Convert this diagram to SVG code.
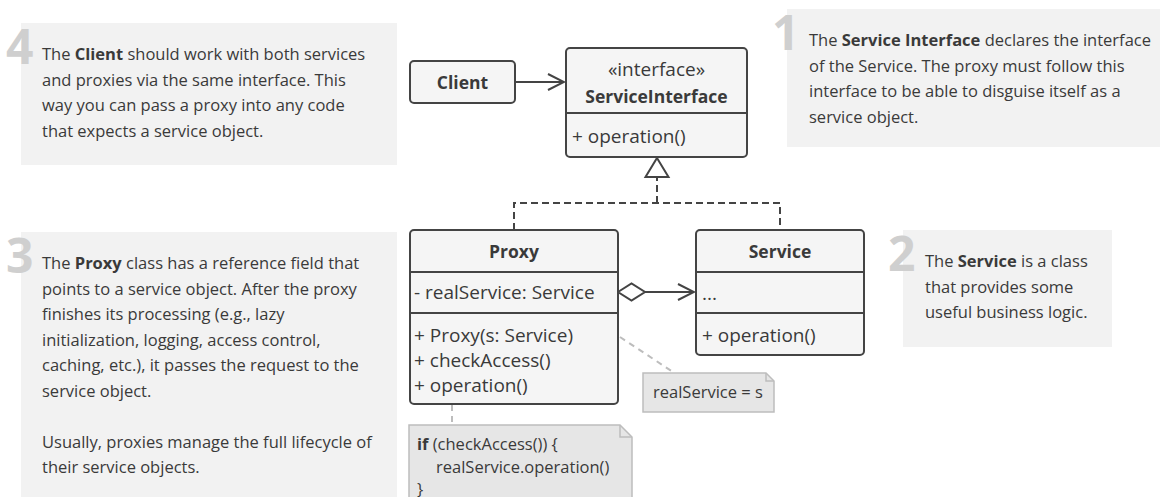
<svg xmlns="http://www.w3.org/2000/svg" width="1167" height="497" viewBox="0 0 1167 497">
  <style>
    .bg { fill: #f2f2f2; }
    .digit { font-family: "Open Sans", "Liberation Sans", sans-serif; font-weight: bold; font-size: 48px; fill: #cfcfcf; }
    .txt { font-family: "Open Sans", "Liberation Sans", sans-serif; font-size: 16.5px; fill: #3a3a3a; }
    .b { font-weight: bold; }
    .box { fill: #f5f5f5; stroke: #444; stroke-width: 2; }
    .sep { stroke: #444; stroke-width: 2; fill: none; }
    .cls { font-family: "Open Sans", "Liberation Sans", sans-serif; font-size: 19px; fill: #3a3a3a; }
    .title { font-weight: bold; text-anchor: middle; font-size: 17.5px; }
    .mid { text-anchor: middle; }
    .line { stroke: #444; stroke-width: 2; fill: none; }
    .dash { stroke: #444; stroke-width: 2; fill: none; stroke-dasharray: 7 4; }
    .ndash { stroke: #bdbdbd; stroke-width: 2; fill: none; stroke-dasharray: 6 5; }
    .note { fill: #e6e6e6; stroke: #bdbdbd; stroke-width: 1.5; }
    .ntxt { font-family: "Open Sans", "Liberation Sans", sans-serif; font-size: 16.5px; fill: #3a3a3a; }
  </style>
  <defs>
    <marker id="open" viewBox="0 0 20 20" refX="18" refY="10" markerWidth="20" markerHeight="20" markerUnits="userSpaceOnUse" orient="auto">
      <path d="M2,2 L18,10 L2,18" fill="none" stroke="#444" stroke-width="2"/>
    </marker>
  </defs>

  <!-- explanatory notes -->
  <g id="note-4">
    <rect class="bg" x="21" y="23" width="376" height="142"/>
    <text class="digit" x="6" y="64">4</text>
    <text class="txt" x="42" y="60">The <tspan class="b">Client</tspan> should work with both services</text>
    <text class="txt" x="42" y="85.5">and proxies via the same interface. This</text>
    <text class="txt" x="42" y="111">way you can pass a proxy into any code</text>
    <text class="txt" x="42" y="136.5">that expects a service object.</text>
  </g>

  <g id="note-1">
    <rect class="bg" x="787" y="9" width="373" height="138"/>
    <text class="digit" x="772" y="50">1</text>
    <text class="txt" x="809" y="46">The <tspan class="b">Service Interface</tspan> declares the interface</text>
    <text class="txt" x="809" y="71.5">of the Service. The proxy must follow this</text>
    <text class="txt" x="809" y="97">interface to be able to disguise itself as a</text>
    <text class="txt" x="809" y="122.5">service object.</text>
  </g>

  <g id="note-3">
    <rect class="bg" x="21" y="232" width="376" height="265"/>
    <text class="digit" x="6" y="273">3</text>
    <text class="txt" x="42" y="269">The <tspan class="b">Proxy</tspan> class has a reference field that</text>
    <text class="txt" x="42" y="294.5">points to a service object. After the proxy</text>
    <text class="txt" x="42" y="320">finishes its processing (e.g., lazy</text>
    <text class="txt" x="42" y="345.5">initialization, logging, access control,</text>
    <text class="txt" x="42" y="371">caching, etc.), it passes the request to the</text>
    <text class="txt" x="42" y="396.5">service object.</text>
    <text class="txt" x="42" y="447.5">Usually, proxies manage the full lifecycle of</text>
    <text class="txt" x="42" y="473">their service objects.</text>
  </g>

  <g id="note-2">
    <rect class="bg" x="903" y="230" width="209" height="117"/>
    <text class="digit" x="888" y="271">2</text>
    <text class="txt" x="925" y="267">The <tspan class="b">Service</tspan> is a class</text>
    <text class="txt" x="925" y="292.5">that provides some</text>
    <text class="txt" x="925" y="318">useful business logic.</text>
  </g>

  <!-- connectors -->
  <g id="connectors">
    <line class="line" x1="515" y1="82" x2="564" y2="82" marker-end="url(#open)"/>
    <path class="dash" d="M514,230 V203 H780 V230"/>
    <path class="dash" d="M657,203 V178"/>
    <path d="M657,158 L668.5,177 L645.5,177 Z" fill="#fff" stroke="#444" stroke-width="2"/>
    <path d="M618,292 L631.5,283.5 L645,292 L631.5,300.5 Z" fill="#fff" stroke="#444" stroke-width="2"/>
    <line class="line" x1="645" y1="292" x2="694" y2="292" marker-end="url(#open)"/>
    <line class="ndash" x1="620" y1="337" x2="673" y2="372"/>
    <line class="ndash" x1="452" y1="405" x2="452" y2="425"/>
  </g>

  <!-- classes -->
  <g id="client">
    <rect class="box" x="410" y="61" width="105" height="42" rx="4"/>
    <text class="cls title" x="462.5" y="89">Client</text>
  </g>

  <g id="service-interface">
    <rect class="box" x="566" y="48" width="181" height="109" rx="4"/>
    <line class="sep" x1="566" y1="113" x2="747" y2="113"/>
    <text class="cls mid" x="656.5" y="76">«interface»</text>
    <text class="cls title" x="656.5" y="103">ServiceInterface</text>
    <text class="cls" x="572" y="143">+ operation()</text>
  </g>

  <g id="proxy">
    <rect class="box" x="410" y="230" width="208" height="174" rx="4"/>
    <line class="sep" x1="410" y1="272" x2="618" y2="272"/>
    <line class="sep" x1="410" y1="313" x2="618" y2="313"/>
    <text class="cls title" x="514" y="258">Proxy</text>
    <text class="cls" x="414" y="299">- realService: Service</text>
    <text class="cls" x="414" y="342">+ Proxy(s: Service)</text>
    <text class="cls" x="414" y="367">+ checkAccess()</text>
    <text class="cls" x="414" y="392">+ operation()</text>
  </g>

  <g id="service">
    <rect class="box" x="696" y="230" width="168" height="125" rx="4"/>
    <line class="sep" x1="696" y1="272" x2="864" y2="272"/>
    <line class="sep" x1="696" y1="313" x2="864" y2="313"/>
    <text class="cls title" x="780" y="258">Service</text>
    <text class="cls" x="702" y="300">...</text>
    <text class="cls" x="702" y="342">+ operation()</text>
  </g>

  <!-- code notes -->
  <g id="note-assign">
    <path class="note" d="M643,373 H766 L774,381 V412 H643 Z"/>
    <path d="M766,373 V381 H774" fill="none" stroke="#bdbdbd" stroke-width="1.5"/>
    <text class="ntxt" x="653" y="398">realService = s</text>
  </g>

  <g id="note-operation">
    <path class="note" d="M409,425 H620 L632,437 V500 H409 Z"/>
    <path d="M620,425 V437 H632" fill="none" stroke="#bdbdbd" stroke-width="1.5"/>
    <text class="ntxt" x="417" y="450"><tspan class="b">if</tspan> (checkAccess()) {</text>
    <text class="ntxt" x="436" y="473">realService.operation()</text>
    <text class="ntxt" x="417" y="495">}</text>
  </g>
</svg>
